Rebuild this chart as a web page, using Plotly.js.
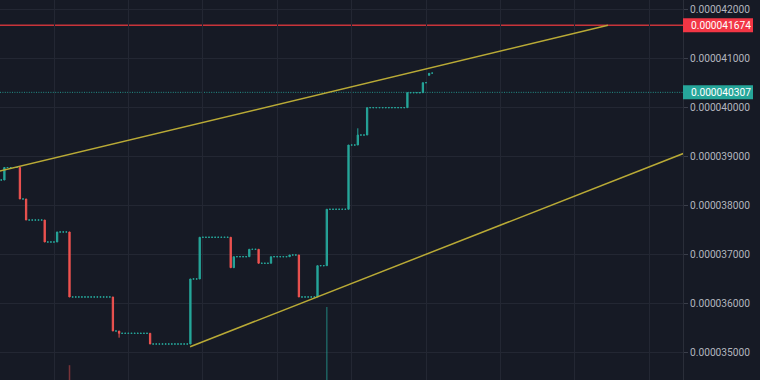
<!DOCTYPE html>
<html><head><meta charset="utf-8">
<script src="https://cdn.plot.ly/plotly-3.0.1.min.js"></script>
<style>html,body{margin:0;padding:0;background:#161a25;}#chart{width:760px;height:380px;}</style>
</head><body><div id="chart"></div>
<script>
const U = 1e-6; // prices below are in units of 0.000001

// Candles with a visible body (candle index, open, high, low, close)
const moveIdx   = [1,6,8,14,18,22,36,38,48,61,64,74,75,80,83,87,93,96,102,105,112,115,118,131,136,138];
const moveOpen  = [38.52,38.775,38.133,37.704,37.256,37.46,36.135,35.441,35.394,35.176,36.502,37.352,36.732,36.956,37.107,36.822,36.956,36.991,36.135,36.773,37.923,39.233,39.437,39.995,40.30,40.654];
const moveHigh  = [38.775,38.775,38.133,37.704,37.46,37.46,36.135,35.441,35.394,36.502,37.352,37.352,36.956,37.107,37.107,36.956,36.991,36.991,36.773,37.923,39.233,39.574,39.995,40.30,40.504,40.695];
const moveLow   = [38.52,38.133,37.704,37.256,37.256,36.135,35.441,35.305,35.176,35.176,36.502,36.732,36.732,36.956,36.822,36.822,36.956,36.135,36.135,36.773,37.923,39.233,39.437,39.995,40.30,40.654];
const moveClose = [38.775,38.133,37.704,37.256,37.46,36.135,35.441,35.394,35.176,36.502,37.352,36.732,36.956,37.107,36.822,36.956,36.991,36.135,36.773,37.923,39.233,39.437,39.995,40.30,40.504,40.695];

// Runs of flat (no-trade) candles: first index, last index, price
const flatStart = [0,2,7,9,15,19,23,37,39,49,62,65,76,81,84,88,94,97,103,106,113,116,119,132,137,139];
const flatEnd   = [0,5,7,13,17,21,35,37,47,60,63,73,79,82,86,92,95,101,104,111,114,117,130,135,137,139];
const flatLevel = [38.52,38.775,38.133,37.704,37.256,37.46,36.135,35.441,35.394,35.176,36.502,37.352,36.956,37.107,36.822,36.956,36.991,36.135,36.773,37.923,39.233,39.437,39.995,40.30,40.504,40.70];

// Visible volume bars
const volIdx   = [22,105];
const volValue = [3.9,19.2];
const volUp    = [false,true];

// Drawn trendlines (candle index, price)
const upperX = [-1,195.7];
const upperY = [38.694,41.674];
const lowerX = [60.9,222];
const lowerY = [35.12,39.11];

// Price lines
const resistance = 41.674;
const lastPrice  = 40.307;

const UP = '#26a69a', DOWN = '#ef5350', BG = '#161a25', GRID = '#232733', TREND = '#b9aa36';

const fx=[],fo=[];
flatStart.forEach((s,k)=>{ for(let i=s;i<=flatEnd[k];i++){ fx.push(i); fo.push(flatLevel[k]*U);} });

const traces = [
  {type:'bar', x:volIdx, y:volValue, yaxis:'y2', width:0.5,
   marker:{color:volUp.map(u=>u?'rgba(38,166,154,0.5)':'rgba(239,83,80,0.45)'), line:{width:0}},
   hoverinfo:'skip', showlegend:false},
  {type:'candlestick', x:fx, open:fo, high:fo, low:fo, close:fo,
   increasing:{line:{color:UP,width:1}, fillcolor:UP},
   decreasing:{line:{color:UP,width:1}, fillcolor:UP},
   hoverinfo:'skip', showlegend:false},
  {type:'candlestick', x:moveIdx,
   open:moveOpen.map(v=>v*U), high:moveHigh.map(v=>v*U), low:moveLow.map(v=>v*U), close:moveClose.map(v=>v*U),
   increasing:{line:{color:UP,width:1}, fillcolor:UP},
   decreasing:{line:{color:DOWN,width:1}, fillcolor:DOWN},
   hoverinfo:'skip', showlegend:false},
  {type:'scatter', mode:'lines', x:upperX, y:upperY.map(v=>v*U), line:{color:TREND,width:1.5}, hoverinfo:'skip', showlegend:false},
  {type:'scatter', mode:'lines', x:lowerX, y:lowerY.map(v=>v*U), line:{color:TREND,width:1.5}, hoverinfo:'skip', showlegend:false}
];

const lblFont = {family:'Roboto, sans-serif', size:10.2, color:'#ffffff'};
function priceLabel(p,color){
  return {
    shape:{type:'rect', xref:'paper', xsizemode:'pixel', xanchor:1, x0:0, x1:70,
           yref:'y', ysizemode:'pixel', yanchor:p*U, y0:-7, y1:7, fillcolor:color, line:{width:0}, layer:'above'},
    ann:{xref:'paper', x:1, xanchor:'left', xshift:6, yref:'y', y:p*U, yanchor:'middle',
         text:(p*U).toFixed(9), showarrow:false, font:lblFont, borderpad:1}
  };
}
const rl = priceLabel(resistance,'#f23645');
const ll = priceLabel(lastPrice, UP);

const layout = {
  width:760, height:380, margin:{l:0,r:77,t:0,b:0},
  paper_bgcolor:BG, plot_bgcolor:BG, showlegend:false, boxgap:0.4, boxmode:'overlay',
  xaxis:{range:[-0.42,219.9], showticklabels:false, ticks:'', tick0:17, dtick:24,
         showgrid:true, gridcolor:GRID, gridwidth:1, zeroline:false, rangeslider:{visible:false}, fixedrange:true},
  yaxis:{side:'right', range:[34.442*U,42.19*U], tick0:0, dtick:U, tickformat:'.9f',
         showgrid:true, gridcolor:GRID, gridwidth:1, zeroline:false,
         ticks:'outside', ticklen:4, tickcolor:'#3a3e4a', showline:true, linecolor:'#2a2e39', linewidth:1,
         tickfont:{family:'Roboto, sans-serif', size:10.2, color:'#b2b5be'}, automargin:false, fixedrange:true},
  yaxis2:{overlaying:'y', range:[0,100], visible:false, fixedrange:true},
  shapes:[
    {type:'line', xref:'paper', x0:0, x1:1, yref:'y', y0:resistance*U, y1:resistance*U, line:{color:'#c8343a', width:1.5}, layer:'below'},
    {type:'line', xref:'paper', x0:0, x1:1, yref:'y', y0:lastPrice*U, y1:lastPrice*U, line:{color:'rgba(38,166,154,0.85)', width:1, dash:'1px,1.4px'}, layer:'below'},
    rl.shape, ll.shape
  ],
  annotations:[rl.ann, ll.ann]
};

Plotly.newPlot('chart', traces, layout, {staticPlot:true, displayModeBar:false});
</script>
</body></html>
